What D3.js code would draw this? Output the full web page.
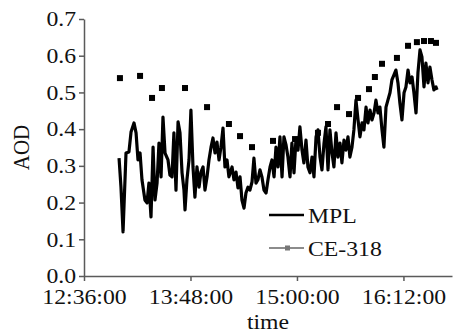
<!DOCTYPE html>
<html>
<head>
<meta charset="utf-8">
<script src="https://cdn.jsdelivr.net/npm/d3@7"></script>
<style>
  body { margin: 0; background: #fff; }
  svg text { font-family: "Liberation Serif", "Times New Roman", Tinos, Times, serif; fill: #111; }
</style>
</head>
<body>
<div id="chart"></div>
<script>
// MPL retrieval: minutes after 12:00 and AOD
const mplMinutes = [59.7, 61.0, 62.4, 64.4, 66.4, 67.8, 69.8, 71.2, 72.5, 73.9, 75.2, 77.2, 78.6, 79.9, 81.3, 82.7, 84.0, 85.4, 86.7, 88.1,
  89.4, 90.8, 92.8, 94.1, 95.5, 96.8, 98.2, 99.6, 100.9, 102.3, 103.6, 104.3, 105.6, 107.0, 108.3, 109.7, 111.0, 112.4, 113.8, 115.1,
  116.5, 117.8, 119.2, 120.5, 121.9, 123.2, 124.6, 125.9, 127.3, 128.6, 130.0, 131.3, 132.7, 134.0, 136.1, 137.4, 138.8, 140.1, 141.5, 142.8,
  144.2, 145.5, 146.9, 148.2, 149.6, 150.9, 152.3, 153.6, 155.0, 156.3, 157.7, 159.1, 160.4, 161.8, 163.1, 164.5, 165.8, 167.2, 168.5, 169.9,
  171.2, 172.6, 173.9, 175.3, 176.6, 178.0, 179.3, 180.7, 182.0, 183.4, 184.7, 186.1, 187.4, 188.8, 190.2, 191.5, 192.9, 194.2, 195.6, 196.9,
  198.3, 199.6, 201.0, 202.3, 203.7, 205.0, 206.4, 207.7, 209.1, 210.4, 211.8, 213.1, 214.5, 215.8, 217.2, 218.5, 219.9, 221.3, 222.6, 224.0,
  225.3, 226.7, 228.0, 229.4, 230.7, 232.1, 233.4, 234.8, 236.1, 237.5, 238.8, 240.2, 241.5, 242.9, 244.2, 245.6, 246.9, 248.3, 249.6, 251.0,
  252.4, 253.7, 255.1, 256.4, 257.8, 259.1, 260.5, 261.8, 263.2, 264.5, 265.9, 267.2, 268.6, 269.9, 271.3, 272.6, 274.0, 274.7];
const mplAOD = [0.321, 0.242, 0.120, 0.335, 0.338, 0.392, 0.417, 0.390, 0.316, 0.335, 0.262, 0.207, 0.199, 0.253, 0.161, 0.351, 0.207, 0.253, 0.362, 0.270,
  0.433, 0.335, 0.316, 0.275, 0.270, 0.390, 0.234, 0.420, 0.390, 0.281, 0.234, 0.180, 0.262, 0.316, 0.452, 0.297, 0.215, 0.297, 0.242, 0.283,
  0.297, 0.234, 0.270, 0.316, 0.351, 0.376, 0.335, 0.365, 0.316, 0.351, 0.403, 0.297, 0.316, 0.270, 0.297, 0.262, 0.283, 0.240, 0.270, 0.207,
  0.185, 0.226, 0.242, 0.234, 0.256, 0.321, 0.253, 0.262, 0.289, 0.270, 0.234, 0.226, 0.262, 0.297, 0.316, 0.270, 0.351, 0.297, 0.379, 0.270,
  0.379, 0.357, 0.324, 0.270, 0.362, 0.281, 0.370, 0.343, 0.406, 0.343, 0.308, 0.370, 0.297, 0.281, 0.324, 0.270, 0.379, 0.398, 0.324, 0.289,
  0.362, 0.406, 0.289, 0.398, 0.335, 0.297, 0.390, 0.324, 0.362, 0.308, 0.370, 0.343, 0.379, 0.324, 0.351, 0.398, 0.479, 0.425, 0.379, 0.417,
  0.398, 0.460, 0.417, 0.452, 0.425, 0.444, 0.479, 0.444, 0.460, 0.398, 0.351, 0.460, 0.479, 0.499, 0.534, 0.548, 0.561, 0.526, 0.471, 0.425,
  0.499, 0.515, 0.561, 0.526, 0.542, 0.499, 0.444, 0.553, 0.616, 0.597, 0.515, 0.580, 0.526, 0.569, 0.534, 0.507, 0.515, 0.507];

// CE-318 sun photometer
const ceMinutes = [60.3, 73.9, 82.0, 88.7, 104.3, 119.2, 134.0, 141.5, 149.6, 163.8, 178.7, 194.2, 201.0,
  207.1, 215.2, 221.3, 228.7, 232.7, 237.5, 247.6, 255.1, 261.1, 265.9, 270.6, 274.0];
const ceAOD = [0.539, 0.545, 0.485, 0.512, 0.512, 0.460, 0.414, 0.381, 0.351, 0.368, 0.373, 0.390, 0.414,
  0.460, 0.441, 0.485, 0.509, 0.542, 0.578, 0.594, 0.627, 0.637, 0.640, 0.640, 0.635];

const yTicks = [0, 0.1, 0.2, 0.3, 0.4, 0.5, 0.6, 0.7];
const xTickLabels = ['12:36:00', '13:48:00', '15:00:00', '16:12:00'];
const seriesNames = ['MPL', 'CE-318'];

const W = 453, H = 332;
const margin = {top: 19, right: 1, bottom: 56, left: 84};
const sx = 1.13; // glyphs in the figure are a bit wide
const serif = '"Liberation Serif", "Times New Roman", Tinos, Times, serif';

const parseT = d3.timeParse('%H:%M:%S');
const base = parseT('12:00:00');
const toDate = m => new Date(base.getTime() + m * 60000);

const mpl = mplMinutes.map((m, i) => ({t: toDate(m), v: mplAOD[i]}));
const ce = ceMinutes.map((m, i) => ({t: toDate(m), v: ceAOD[i]}));

const svg = d3.select('#chart').append('svg')
  .attr('width', W).attr('height', H)
  .style('font-family', serif);

const x = d3.scaleTime()
  .domain([parseT('12:36:00'), parseT('16:44:50')])
  .range([margin.left, W - margin.right]);

const y = d3.scaleLinear()
  .domain([0, 0.7])
  .range([H - margin.bottom, margin.top]);

// y axis
const yAxis = svg.append('g')
  .attr('transform', `translate(${margin.left},0)`)
  .call(d3.axisLeft(y).tickValues(yTicks).tickFormat(d3.format('.1f'))
    .tickSize(5).tickSizeOuter(0).tickPadding(2));

// x axis
const xAxis = svg.append('g')
  .attr('transform', `translate(0,${y(0)})`)
  .call(d3.axisBottom(x).tickValues(xTickLabels.map(parseT)).tickFormat(d3.timeFormat('%H:%M:%S'))
    .tickSize(5).tickSizeOuter(0).tickPadding(8));

svg.selectAll('.tick text')
  .attr('transform', `scale(${sx},1)`)
  .attr('font-family', serif)
  .attr('font-size', 21)
  .attr('fill', '#111');
yAxis.attr('font-family', serif);
xAxis.attr('font-family', serif);

svg.selectAll('.domain, .tick line').attr('stroke', '#5a5a5a').attr('stroke-width', 1.5);

// MPL line
svg.append('path')
  .datum(mpl)
  .attr('fill', 'none')
  .attr('stroke', '#000')
  .attr('stroke-width', 3.2)
  .attr('stroke-linejoin', 'round')
  .attr('d', d3.line().x(d => x(d.t)).y(d => y(d.v)));

// CE-318 squares
svg.selectAll('.ce')
  .data(ce)
  .enter()
  .append('rect')
  .attr('class', 'ce')
  .attr('x', d => x(d.t) - 3)
  .attr('y', d => y(d.v) - 3)
  .attr('width', 6)
  .attr('height', 6)
  .attr('fill', '#000');

// axis titles
svg.append('text')
  .attr('transform', `translate(29,${(margin.top + H - margin.bottom) / 2}) scale(${sx},1) rotate(-90)`)
  .attr('text-anchor', 'middle')
  .attr('font-size', 21)
  .text('AOD');

svg.append('text')
  .attr('transform', `translate(${(margin.left + W - margin.right) / 2},329) scale(${sx},1)`)
  .attr('text-anchor', 'middle')
  .attr('font-size', 21)
  .text('time');

// legend
const legend = svg.append('g').attr('transform', 'translate(269,215)');

legend.append('line')
  .attr('x1', 0).attr('x2', 35).attr('y1', 0).attr('y2', 0)
  .attr('stroke', '#000').attr('stroke-width', 2.6);
legend.append('text')
  .attr('transform', `translate(39,0) scale(${sx},1)`)
  .attr('dy', '0.36em')
  .attr('font-size', 21)
  .text(seriesNames[0]);

legend.append('line')
  .attr('x1', 0).attr('x2', 35).attr('y1', 33).attr('y2', 33)
  .attr('stroke', '#8c8c8c').attr('stroke-width', 2.2);
legend.append('rect')
  .attr('x', 16).attr('y', 30.5).attr('width', 5).attr('height', 5)
  .attr('fill', '#777');
legend.append('text')
  .attr('transform', `translate(39,33) scale(${sx},1)`)
  .attr('dy', '0.36em')
  .attr('font-size', 21)
  .text(seriesNames[1]);
</script>
</body>
</html>
